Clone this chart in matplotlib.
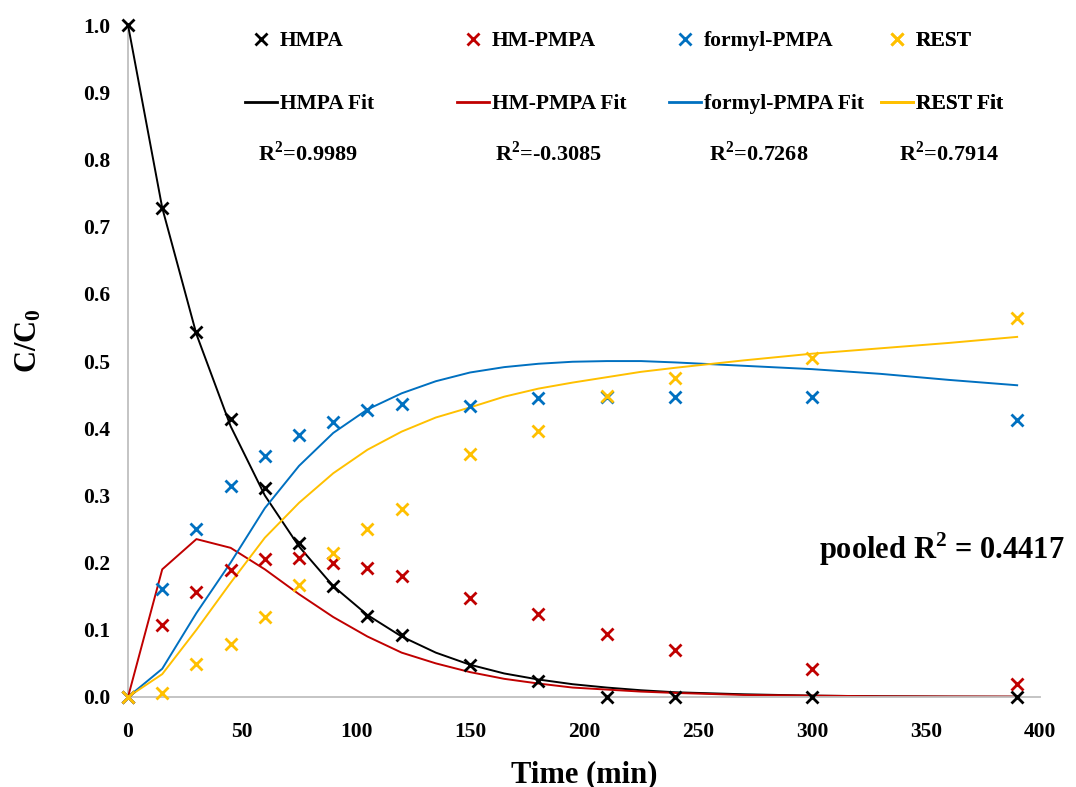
import numpy as np
import matplotlib
matplotlib.use("Agg")
from matplotlib import pyplot as plt
from matplotlib.lines import Line2D

plt.rcParams['font.family'] = ['Liberation Serif', 'DejaVu Serif']
plt.rcParams['font.weight'] = 'bold'
plt.rcParams['mathtext.fontset'] = 'custom'
plt.rcParams['mathtext.rm'] = 'Liberation Serif:bold'
plt.rcParams['mathtext.bf'] = 'Liberation Serif:bold'

# measured concentrations (C/C0)
time = [0, 15, 30, 45, 60, 75, 90, 105, 120, 150, 180, 210, 240, 300, 390]
hmpa = [1.0, 0.728, 0.543, 0.414, 0.311, 0.229, 0.165, 0.121, 0.092,
        0.048, 0.024, 0.0, 0.0, 0.0, 0.0]
hm_pmpa = [0.0, 0.107, 0.156, 0.189, 0.205, 0.207, 0.199, 0.192, 0.180,
           0.147, 0.124, 0.094, 0.070, 0.042, 0.019]
formyl = [0.0, 0.161, 0.250, 0.314, 0.359, 0.390, 0.409, 0.427, 0.436,
          0.433, 0.445, 0.446, 0.446, 0.446, 0.412]
rest = [0.0, 0.006, 0.049, 0.079, 0.119, 0.167, 0.214, 0.250, 0.280,
        0.362, 0.396, 0.448, 0.475, 0.504, 0.564]

# model curves
t_fit = [0, 15, 30, 45, 60, 75, 90, 105, 120, 135, 150, 165, 180, 195,
         210, 225, 240, 270, 300, 330, 360, 390]
hmpa_fit = [1.0, 0.728, 0.540, 0.403, 0.300, 0.224, 0.165, 0.122, 0.090,
            0.066, 0.048, 0.035, 0.026, 0.019, 0.014, 0.010, 0.007,
            0.004, 0.002, 0.001, 0.0005, 0.0003]
hm_pmpa_fit = [0.0, 0.190, 0.235, 0.222, 0.190, 0.153, 0.119, 0.090, 0.066,
               0.050, 0.037, 0.027, 0.020, 0.014, 0.011, 0.008, 0.006,
               0.003, 0.002, 0.001, 0.0007, 0.0005]
formyl_fit = [0.0, 0.042, 0.125, 0.200, 0.281, 0.344, 0.393, 0.428, 0.452,
              0.470, 0.483, 0.491, 0.496, 0.499, 0.500, 0.500, 0.498,
              0.493, 0.488, 0.481, 0.472, 0.464]
rest_fit = [0.0, 0.034, 0.100, 0.170, 0.237, 0.289, 0.333, 0.368, 0.395,
            0.416, 0.431, 0.447, 0.459, 0.468, 0.476, 0.484, 0.490,
            0.501, 0.511, 0.519, 0.527, 0.536]

names = ['HMPA', 'HM-PMPA', 'formyl-PMPA', 'REST']
colors = ['#000000', '#C00000', '#0070C0', '#FFC000']
r2 = ['0.9989', '-0.3085', '0.7268', '0.7914']
pooled_r2 = '0.4417'

fig = plt.figure(figsize=(10.76, 7.87), dpi=100)
ax = fig.add_axes([0.119, 0.1144, 0.8475, 0.8536])

points = [hmpa, hm_pmpa, formyl, rest]
fits = [hmpa_fit, hm_pmpa_fit, formyl_fit, rest_fit]

# fitted lines first, markers on top
for y, c in zip(fits, colors):
    ax.plot(t_fit, y, color=c, lw=1.4, zorder=2)
for y, c in zip(points, colors):
    ax.plot(time, y, ls='none', marker='x', ms=9, mew=2, color=c,
            zorder=3, clip_on=False)

ax.set_xlim(0, 400)
ax.set_ylim(0, 1.0)
ax.set_xticks(np.arange(0, 401, 50))
ax.set_yticks(np.arange(0, 1.01, 0.1))
ax.yaxis.set_major_formatter(matplotlib.ticker.FormatStrFormatter('%.1f'))
ax.tick_params(length=0, labelsize=15.5)
ax.tick_params(axis='x', pad=18)
ax.tick_params(axis='y', pad=13)
for s in ['top', 'right']:
    ax.spines[s].set_visible(False)
for s in ['left', 'bottom']:
    ax.spines[s].set_color('#BFBFBF')
    ax.spines[s].set_linewidth(1.3)
ax.spines['left'].set_zorder(1)

ax.set_xlabel('Time (min)', fontsize=22, fontweight='bold')
ax.set_ylabel(r'$\mathregular{C/C_0}$', fontsize=22, fontweight='bold')
ax.xaxis.set_label_coords(0.5, -0.094)
ax.yaxis.set_label_coords(-0.093, 0.53)

# one small legend per species, laid out in four columns
col_x = [245, 457, 669, 881]
for i in range(4):
    h = [Line2D([], [], ls='none', marker='x', ms=9, mew=2, color=colors[i]),
         Line2D([], [], lw=2, color=colors[i])]
    leg = ax.legend(h, [names[i], names[i] + ' Fit'], loc='upper left',
                    bbox_to_anchor=(col_x[i] / 1076, 1 - 31 / 787),
                    bbox_transform=fig.transFigure, frameon=False,
                    fontsize=15.5, handlelength=1.5, handletextpad=0.12,
                    labelspacing=2.0, borderpad=0, borderaxespad=0)
    ax.add_artist(leg)

r2_x = [308, 549, 759, 949]
for x, v in zip(r2_x, r2):
    fig.text(x / 1076, 1 - 154 / 787, r'R$^\mathregular{2}$=' + v,
             ha='center', va='center', fontsize=16, fontweight='bold')

fig.text(1065 / 1076, 1 - 549 / 787,
         r'pooled R$^\mathregular{2}$ = ' + pooled_r2,
         ha='right', va='center', fontsize=22, fontweight='bold')

fig.savefig('out.png', dpi=100)
